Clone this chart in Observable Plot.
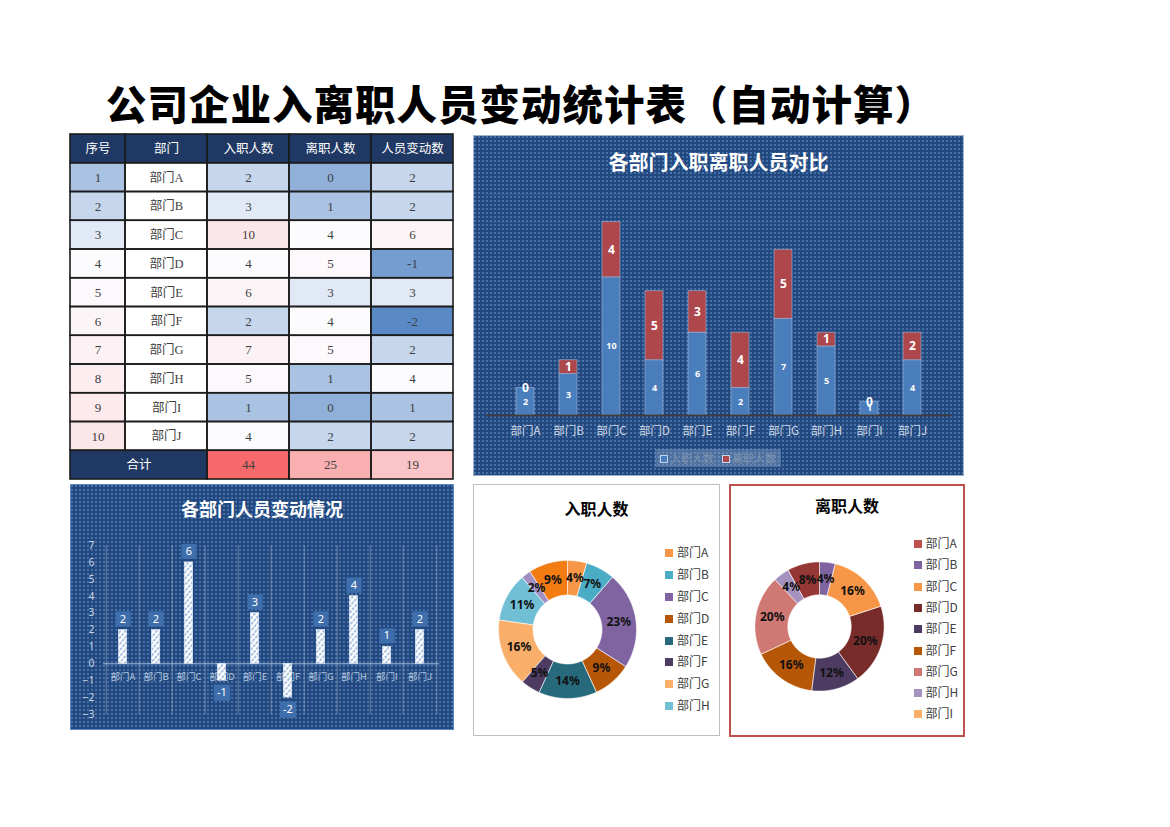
<!DOCTYPE html>
<html><head><meta charset="utf-8">
<script src="https://cdn.jsdelivr.net/npm/d3@7"></script>
<script src="https://cdn.jsdelivr.net/npm/@observablehq/plot@0.6"></script>
<style>
html,body{margin:0;padding:0;background:#fff;}
body{width:1170px;height:827px;position:relative;overflow:hidden;font-family:"Noto Sans CJK SC","Noto Sans",sans-serif;}
.abs{position:absolute;}
#title{left:106px;top:81px;line-height:44px;text-align:left;font-size:40.5px;font-weight:900;color:#000;white-space:nowrap;letter-spacing:1px;}
.bluebg{background-color:#21497f;background-image:radial-gradient(circle, rgba(120,160,215,0.45) 0.8px, transparent 1.3px);background-size:4px 4px;}
.ctitle{position:absolute;left:0;right:0;text-align:center;font-weight:700;white-space:nowrap;}
.leg{position:absolute;font-size:12px;color:#404040;line-height:14px;white-space:nowrap;}
.leg i{display:inline-block;width:8px;height:8px;margin-right:4px;vertical-align:0px;}
svg{overflow:visible;display:block;}
</style>
</head><body>
<div id="title" class="abs">公司企业入离职人员变动统计表（自动计算）</div>
<div id="table" class="abs" style="left:70px;top:134px;width:383px;height:345px;"></div>
<div id="p1" class="abs bluebg" style="left:473px;top:135px;width:491px;height:341px;outline:1px solid #9fb2cc;outline-offset:-1px;">
  <div class="ctitle" style="top:12px;font-size:20px;line-height:30px;color:#fff;">各部门入职离职人员对比</div>
</div>
<div id="p2" class="abs bluebg" style="left:70px;top:484px;width:384px;height:246px;outline:1px solid #5b86c0;outline-offset:-1px;">
  <div class="ctitle" style="top:10px;font-size:18px;line-height:28px;color:#fff;">各部门人员变动情况</div>
</div>
<div id="p3" class="abs" style="left:473px;top:484px;width:247px;height:252px;box-sizing:border-box;border:1px solid #bfbfbf;background:#fff;">
  <div class="ctitle" style="top:11px;font-size:16px;line-height:24px;color:#000;">入职人数</div>
</div>
<div id="p4" class="abs" style="left:729px;top:484px;width:236px;height:253px;box-sizing:border-box;border:2px solid #c0504d;background:#fff;">
  <div class="ctitle" style="top:7px;font-size:16px;line-height:24px;color:#000;">离职人数</div>
</div>
<script>
// ---------------- data ----------------
const depts = ["部门A","部门B","部门C","部门D","部门E","部门F","部门G","部门H","部门I","部门J"];
const seqNo = [1,2,3,4,5,6,7,8,9,10];
const hired = [2,3,10,4,6,2,7,5,1,4];
const leftCount = [0,1,4,5,3,4,5,1,0,2];
const change = [2,2,6,-1,3,-2,2,4,1,2];
const tableHeaders = ["序号","部门","入职人数","离职人数","人员变动数"];
const totalLabel = "合计";
const seriesNames = ["入职人数","离职人数"];
const hiredPctLabels = ["4%","7%","23%","9%","14%","5%","16%","11%","2%","9%"];
const leftPctLabels = ["0%","4%","16%","20%","12%","16%","20%","4%","0%","8%"];
const changeTicks = [-3,-2,-1,0,1,2,3,4,5,6,7];
const stackTicks = [2,4,6,8,10,12,14,16];
const hiredLegendCount = 8;
const leftLegendCount = 9;

// ---------------- styles ----------------
const hiredColors = ["#F79646","#4BACC6","#8064A2","#B65708","#276A7C","#4D3B62","#F9AE6A","#70BFD5","#A08FC0","#F27B12"];
const leftColors = ["#C0504D","#8064A2","#F79646","#772C2A","#4D3B62","#B65708","#D07874","#A692BE","#F9AE6A","#953735"];
const sansCJK = '"Noto Sans CJK SC","Noto Sans",sans-serif';

// ---------------- table ----------------
(function(){
  const colW = [55,82,82,82,82];
  const edges = [0, ...d3.cumsum(colW)];
  const W = edges[edges.length-1], H = 345;
  const cells = [];
  tableHeaders.forEach((h,c)=>cells.push({row:0,c0:c,c1:c+1,kind:"navy",text:h}));
  depts.forEach((d,i)=>{
    const r = i+1;
    cells.push({row:r,c0:0,c1:1,kind:"value",v:seqNo[i],text:String(seqNo[i])});
    cells.push({row:r,c0:1,c1:2,kind:"white",text:d});
    cells.push({row:r,c0:2,c1:3,kind:"value",v:hired[i],text:String(hired[i])});
    cells.push({row:r,c0:3,c1:4,kind:"value",v:leftCount[i],text:String(leftCount[i])});
    cells.push({row:r,c0:4,c1:5,kind:"value",v:change[i],text:String(change[i])});
  });
  const tr = depts.length+1;
  cells.push({row:tr,c0:0,c1:2,kind:"navy",text:totalLabel});
  [d3.sum(hired), d3.sum(leftCount), d3.sum(change)].forEach((v,k)=>
    cells.push({row:tr,c0:2+k,c1:3+k,kind:"value",v,text:String(v)}));
  cells.forEach(c=>{c.x1=edges[c.c0]; c.x2=edges[c.c1]; c.xm=(c.x1+c.x2)/2;});
  const vals = cells.filter(c=>c.kind==="value").map(c=>c.v);
  const dom = [d3.min(vals), d3.median(vals), d3.max(vals)];
  const isNum = c => c.kind==="value";
  const svg = Plot.plot({
    width: W, height: H, margin: 0,
    style: {background:"transparent", overflow:"visible"},
    x: {domain:[0,W], axis:null},
    y: {domain: d3.range(tr+1), padding:0, round:false, axis:null},
    color: {type:"linear", domain: dom, range:["#5A8AC6","#FCFCFF","#F8696B"], interpolate:"rgb"},
    marks: [
      Plot.barX(cells.filter(c=>c.kind==="navy"), {x1:"x1", x2:"x2", y:"row", fill:"#203864"}),
      Plot.barX(cells.filter(c=>c.kind==="white"), {x1:"x1", x2:"x2", y:"row", fill:"#ffffff"}),
      Plot.barX(cells.filter(isNum), {x1:"x1", x2:"x2", y:"row", fill:"v"}),
      Plot.barX(cells, {x1:"x1", x2:"x2", y:"row", fill:"none", stroke:"#1c1c1c", strokeWidth:1.6}),
      Plot.text(cells.filter(c=>c.kind==="navy"), {x:"xm", y:"row", text:"text", fill:"#ffffff", fontSize:12.5, fontFamily:sansCJK}),
      Plot.text(cells.filter(c=>c.kind==="white"), {x:"xm", y:"row", text:"text", fill:"#404040", fontSize:12.5, fontFamily:'"Liberation Serif","Noto Sans CJK SC",serif'}),
      Plot.text(cells.filter(isNum), {x:"xm", y:"row", text:"text", fill:"#404040", fontSize:13, fontFamily:'"Liberation Serif","DejaVu Serif",serif'})
    ]
  });
  document.getElementById("table").appendChild(svg);
})();

// ---------------- stacked bar chart ----------------
(function(){
  const long = [];
  depts.forEach((d,i)=>{
    long.push({dept:d, kind:seriesNames[0], value:hired[i], mid:hired[i]/2});
    long.push({dept:d, kind:seriesNames[1], value:leftCount[i], mid:hired[i]+leftCount[i]/2});
  });
  const svg = Plot.plot({
    width:491, height:341, marginLeft:13, marginRight:13, marginTop:59, marginBottom:61,
    style:{background:"transparent", color:"#d3dbe7", fontFamily:sansCJK, fontSize:"11.5px", overflow:"visible"},
    x:{domain:depts, padding:0.59, tickSize:0, tickPadding:11, label:null},
    y:{domain:[0,16], axis:null},
    color:{domain:seriesNames, range:["#4A7DBB","#AE474C"]},
    marks:[
      Plot.ruleY(stackTicks, {stroke:"#ffffff", strokeOpacity:0.07}),
      Plot.barY(long, {x:"dept", y:"value", fill:"kind", stroke:"#9cb4d6", strokeWidth:0.8, strokeOpacity:0.8}),
      Plot.ruleY([0], {stroke:"#3d3d3d", strokeWidth:2}),
      Plot.text(long.filter(d=>d.kind===seriesNames[0]), {x:"dept", y:"mid", text:"value", fill:"#fff", fontSize:9, fontWeight:"bold", fontFamily:'"Noto Sans",sans-serif'}),
      Plot.text(long.filter(d=>d.kind===seriesNames[1]), {x:"dept", y:"mid", text:"value", fill:"#fff", fontSize:12, fontWeight:"bold", fontFamily:'"Noto Sans",sans-serif'})
    ]
  });
  svg.style.position="absolute"; svg.style.left="0px"; svg.style.top="0px";
  const p = document.getElementById("p1");
  p.appendChild(svg);
  // legend
  const lg = document.createElement("div");
  lg.style.cssText = "position:absolute;left:182px;top:314px;width:126px;height:18px;background:rgba(150,175,210,0.38);font-size:11px;line-height:18px;color:#8193ad;white-space:nowrap;text-align:center;";
  lg.innerHTML = seriesNames.map((s,i)=>`<span style="margin:0 4px;"><i style="display:inline-block;width:6px;height:6px;border:1px solid #c9d6ea;background:${["#4A7DBB","#AE474C"][i]};margin-right:2px;vertical-align:0px;"></i>${s}</span>`).join("");
  p.appendChild(lg);
})();

// ---------------- change chart ----------------
(function(){
  const data = depts.map((d,i)=>({dept:d, v:change[i]}));
  const svg = Plot.plot({
    width:384, height:246, marginLeft:33, marginRight:15, marginTop:61, marginBottom:16,
    style:{background:"transparent", color:"#c6d2e4", fontFamily:'"Noto Sans",sans-serif', fontSize:"10.5px", overflow:"visible"},
    x:{domain:depts, padding:0, axis:null},
    y:{domain:[-3,7], ticks:changeTicks, tickSize:0, tickPadding:9, label:null, tickFormat:d3.format("d")},
    marks:[
      Plot.ruleX(depts, {x:d=>d, dx:-16.8, y1:-3, y2:7, stroke:"#ffffff", strokeOpacity:0.3}),
      Plot.ruleX(depts.slice(-1), {x:d=>d, dx:16.8, y1:-3, y2:7, stroke:"#ffffff", strokeOpacity:0.3}),
      Plot.ruleY([0], {stroke:"#a9bfdd", strokeWidth:1}),
      Plot.text(depts, {x:d=>d, y:0, dy:13, text:d=>d, fill:"#b3c5de", fontSize:9.5, fontFamily:sansCJK, ariaLabel:"catlabels"}),
      Plot.barY(data, {x:"dept", y:"v", fill:"url(#hatch)", stroke:"#e4ecf6", strokeWidth:0.6, insetLeft:12.3, insetRight:12.3}),
      Plot.dot(data.filter(d=>d.v>=0), {x:"dept", y:"v", dy:-11, symbol:"square", r:8.6, fill:"#3f6eac"}),
      Plot.dot(data.filter(d=>d.v<0), {x:"dept", y:"v", dy:12, symbol:"square", r:9.2, fill:"#3f6eac"}),
      Plot.text(data.filter(d=>d.v>=0), {x:"dept", y:"v", dy:-11, text:"v", fill:"#fff", fontSize:11}),
      Plot.text(data.filter(d=>d.v<0), {x:"dept", y:"v", dy:12, text:"v", fill:"#fff", fontSize:11})
    ]
  });
  const s = d3.select(svg);
  const defs = s.insert("defs", ":first-child");
  const pat = defs.append("pattern").attr("id","hatch").attr("patternUnits","userSpaceOnUse")
    .attr("width",4).attr("height",4).attr("patternTransform","rotate(40)");
  pat.append("rect").attr("width",4).attr("height",4).attr("fill","#ffffff");
  pat.append("line").attr("x1",1).attr("y1",0).attr("x2",1).attr("y2",3).attr("stroke","#86a9d6").attr("stroke-width",1.4);
  s.selectAll("g[aria-label='catlabels'] text").style("letter-spacing","1.6px");
  svg.style.position="absolute"; svg.style.left="0px"; svg.style.top="0px";
  document.getElementById("p2").appendChild(svg);
})();

// ---------------- donuts ----------------
function donut(values, colors, labels, rOut, rIn) {
  const S = Math.ceil(rOut*2)+4, h = S/2;
  const arcs = d3.pie().sort(null).value(d=>d.v)(depts.map((d,i)=>({dept:d, v:values[i], label:labels[i]})));
  const live = arcs.filter(a=>a.data.v>0);
  const pts = [];
  live.forEach(a=>{
    const n = Math.max(2, Math.ceil((a.endAngle-a.startAngle)/(Math.PI/360)));
    for (let k=0;k<=n;k++){const t=a.startAngle+(a.endAngle-a.startAngle)*k/n; pts.push({dept:a.data.dept,x:rOut*Math.sin(t),y:-rOut*Math.cos(t)});}
    for (let k=n;k>=0;k--){const t=a.startAngle+(a.endAngle-a.startAngle)*k/n; pts.push({dept:a.data.dept,x:rIn*Math.sin(t),y:-rIn*Math.cos(t)});}
  });
  const labs = live.map(a=>{const m=(a.startAngle+a.endAngle)/2, r=(rOut+rIn)/2; return {x:r*Math.sin(m), y:-r*Math.cos(m), text:a.data.label};});
  return Plot.plot({
    width:S, height:S, margin:0,
    style:{background:"transparent", overflow:"visible"},
    x:{domain:[-h,h], axis:null},
    y:{domain:[-h,h], range:[0,S], axis:null},
    color:{domain:depts, range:colors},
    marks:[
      Plot.line(pts, {x:"x", y:"y", z:"dept", fill:"dept", stroke:"#ffffff", strokeWidth:0.6, curve:"linear-closed"}),
      Plot.text(labs, {x:"x", y:"y", text:"text", fontWeight:"bold", fontSize:12, fill:"#111", fontFamily:'"Noto Sans","Open Sans",sans-serif'})
    ]
  });
}
function place(panelId, svg, cx, cy) {
  const S = +svg.getAttribute("width");
  svg.style.position="absolute"; svg.style.left=(cx-S/2)+"px"; svg.style.top=(cy-S/2)+"px";
  document.getElementById(panelId).appendChild(svg);
}
function legend(panelId, colors, count, x, y0, step) {
  const p = document.getElementById(panelId);
  depts.slice(0,count).forEach((d,i)=>{
    const el = document.createElement("div");
    el.className = "leg";
    el.style.left = x+"px"; el.style.top = (y0+step*i-7)+"px";
    el.innerHTML = `<i style="background:${colors[i]}"></i>${d}`;
    p.appendChild(el);
  });
}
place("p3", donut(hired, hiredColors, hiredPctLabels, 69, 34.5), 92.7, 144);
legend("p3", hiredColors, hiredLegendCount, 191, 67.3, 21.8);
place("p4", donut(leftCount, leftColors, leftPctLabels, 64.6, 31.7), 87.5, 140);
legend("p4", leftColors, leftLegendCount, 182.5, 57, 21.3);
</script>
</body></html>
